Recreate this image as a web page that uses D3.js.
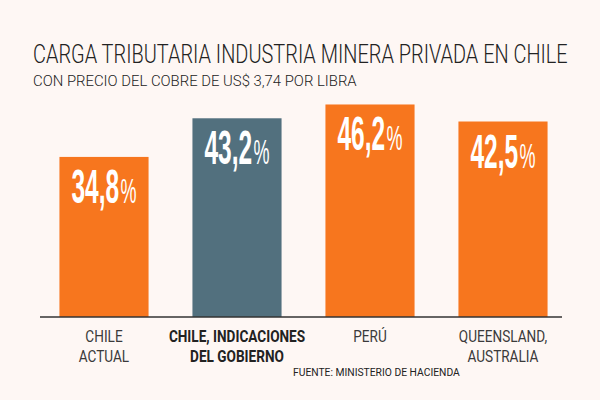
<!DOCTYPE html>
<html>
<head>
<meta charset="utf-8">
<script src="https://cdn.jsdelivr.net/npm/d3@7"></script>
<style>
  html, body { margin: 0; padding: 0; background: #fef7f4; }
  svg { display: block; }
</style>
</head>
<body>
<div id="chart"></div>
<script>
// datos
var categories = ["CHILE ACTUAL", "CHILE, INDICACIONES DEL GOBIERNO", "PERÚ", "QUEENSLAND, AUSTRALIA"];
var labelLines = [["CHILE", "ACTUAL"], ["CHILE, INDICACIONES", "DEL GOBIERNO"], ["PERÚ"], ["QUEENSLAND,", "AUSTRALIA"]];
var values = [34.8, 43.2, 46.2, 42.5];
var valueLabels = ["34,8", "43,2", "46,2", "42,5"];
var highlight = "CHILE, INDICACIONES DEL GOBIERNO";

var title = "CARGA TRIBUTARIA INDUSTRIA MINERA PRIVADA EN CHILE";
var subtitle = "CON PRECIO DEL COBRE DE US$ 3,74 POR LIBRA";
var source = "FUENTE: MINISTERIO DE HACIENDA";

var w = 600, h = 400;
var baseY = 317;
var orange = "#f7761e", slate = "#52707e";
var font = "Roboto, 'Open Sans', sans-serif";

var svg = d3.select("#chart").append("svg").attr("width", w).attr("height", h)
    .style("background", "#fef7f4");

var x = d3.scaleBand().domain(categories).range([37.5, 569.5]).paddingInner(0.33).paddingOuter(0.165);
var y = d3.scaleLinear().domain([0, 50]).range([baseY, 87]);

// texto condensado: se escala en x dentro de un grupo
function narrowText(px, py, sx, anchor) {
    var g = svg.append("g").attr("transform", "translate(" + px + "," + py + ") scale(" + sx + ",1)");
    return g.append("text").attr("text-anchor", anchor || "start");
}

// escala un texto para que ocupe un ancho dado
function fitText(px, py, width, size, weight, str) {
    var g = svg.append("g");
    var t = g.append("text").attr("font-family", font).attr("font-weight", weight)
        .attr("font-size", size).attr("fill", "#222").text(str);
    var sx = width / t.node().getComputedTextLength();
    g.attr("transform", "translate(" + px + "," + py + ") scale(" + sx + ",1)");
    return t;
}

fitText(33, 63, 535, 26, 300, title);
fitText(33, 86, 324, 15, 300, subtitle);

svg.selectAll("rect.bar").data(categories).enter().append("rect")
    .attr("class", "bar")
    .attr("x", function (d) { return x(d); })
    .attr("y", function (d, i) { return y(values[i]); })
    .attr("width", x.bandwidth())
    .attr("height", function (d, i) { return y(0) - y(values[i]); })
    .attr("fill", function (d) { return d == highlight ? slate : orange; });

// etiquetas de valor
categories.forEach(function (d, i) {
    var cx = x(d) + x.bandwidth() / 2;
    var t = narrowText(cx, y(values[i]) + 46, 0.5, "middle")
        .attr("font-family", "'Liberation Sans', Arial, sans-serif").attr("fill", "#fff");
    t.append("tspan").attr("font-size", 49).attr("font-weight", 700).text(valueLabels[i]);
    t.append("tspan").attr("font-size", 36).attr("font-weight", 400).attr("dx", 3).text("%");
});

svg.append("line").attr("x1", 40).attr("x2", 562).attr("y1", baseY).attr("y2", baseY)
    .attr("stroke", "#333").attr("stroke-width", 1.5);

// etiquetas de categoría
categories.forEach(function (d, i) {
    var cx = x(d) + x.bandwidth() / 2;
    var hl = d == highlight;
    labelLines[i].forEach(function (line, j) {
        narrowText(cx, 342 + j * 20, hl ? 0.8 : 0.8, "middle")
            .attr("font-family", font)
            .attr("font-weight", hl ? 700 : 400)
            .attr("font-size", 17).attr("fill", hl ? "#222" : "#3a3a3a")
            .text(line);
    });
});

fitText(293, 376, 167, 11, 400, source);
</script>
</body>
</html>
